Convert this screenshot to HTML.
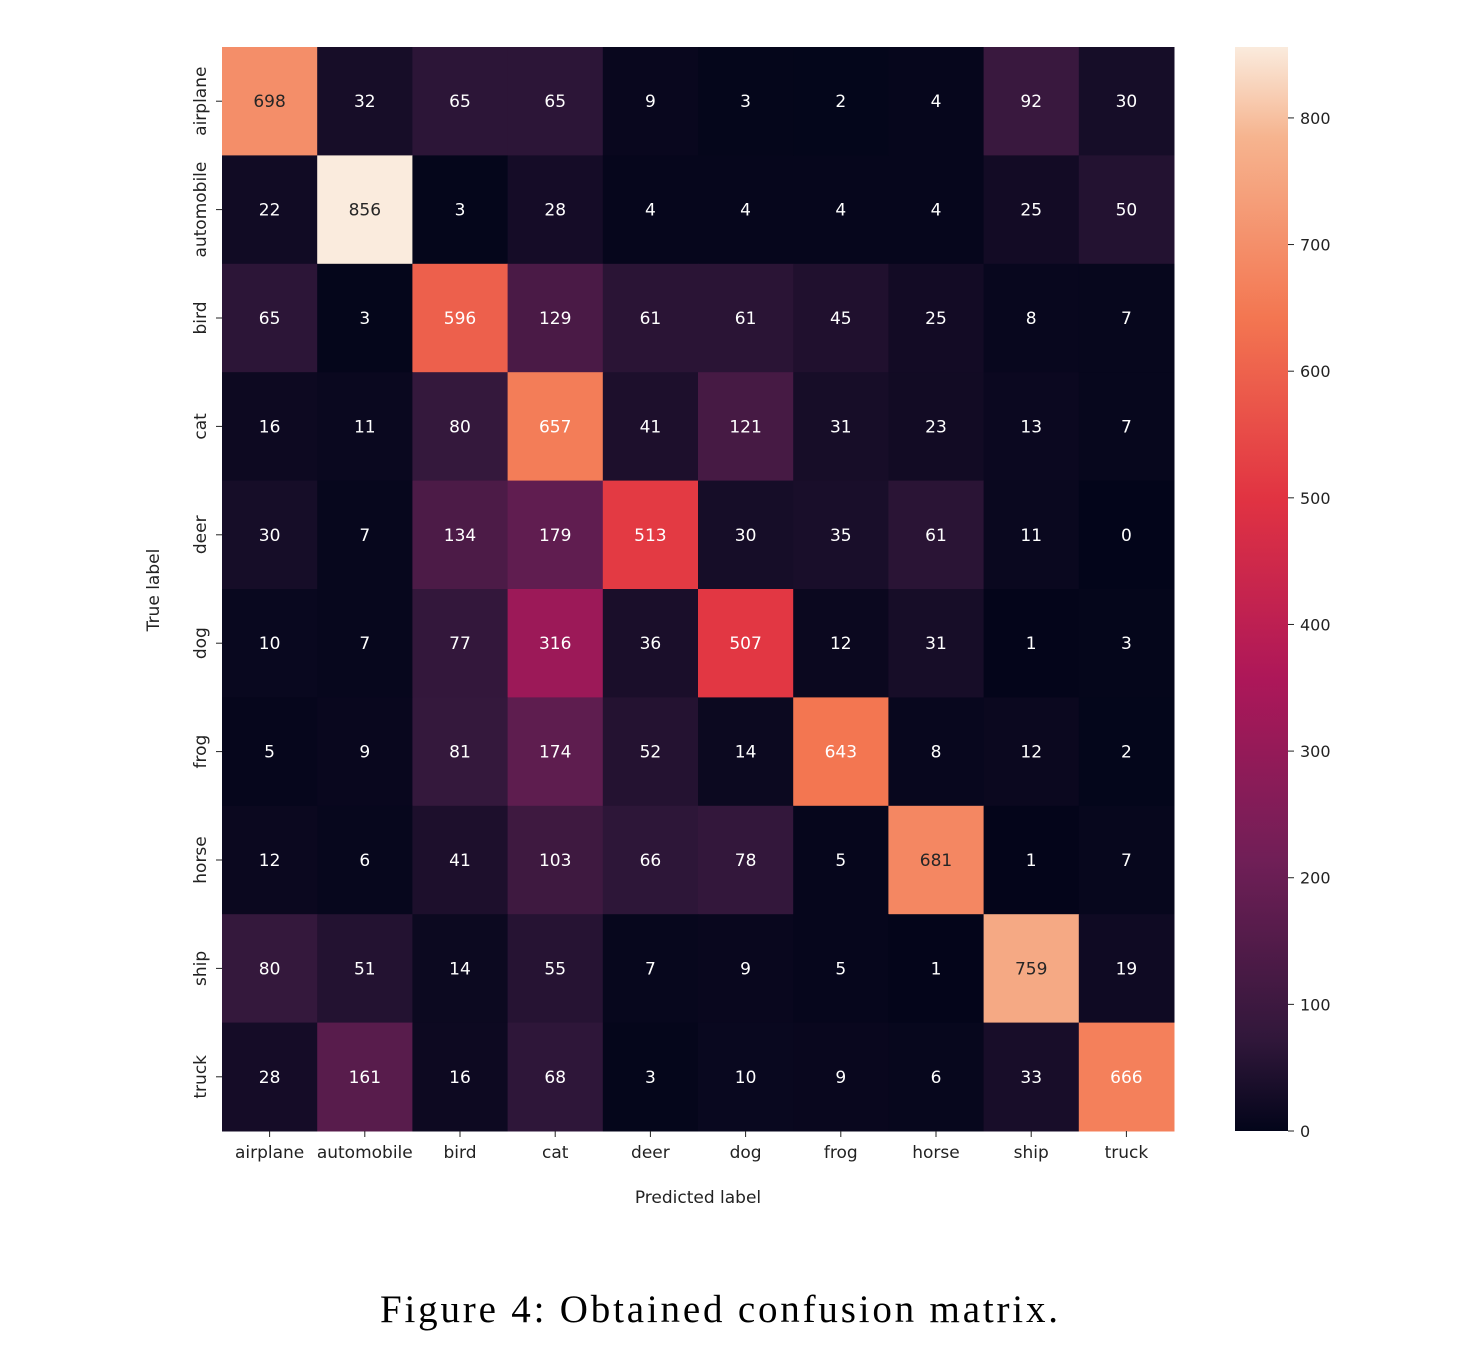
<!DOCTYPE html>
<html><head><meta charset="utf-8"><style>
html,body{margin:0;padding:0;background:#fff;}
svg{display:block;font-family:"DejaVu Sans","Liberation Sans",sans-serif;}
</style></head><body>
<svg id="chart" width="1472" height="1362" viewBox="0 0 1472 1362" xmlns="http://www.w3.org/2000/svg">
<defs>
<linearGradient id="rocket" x1="0" y1="1" x2="0" y2="0">
<stop offset="0" stop-color="#03051a"/><stop offset="0.083" stop-color="#30173a"/>
<stop offset="0.25" stop-color="#701f57"/><stop offset="0.417" stop-color="#ad1759"/>
<stop offset="0.583" stop-color="#e13342"/><stop offset="0.75" stop-color="#f37651"/>
<stop offset="0.917" stop-color="#f6b48f"/><stop offset="1" stop-color="#faebdd"/>
</linearGradient></defs>
<g id="cells"></g>
<g id="axes"></g>
<rect x="1235" y="47" width="53" height="1084" fill="url(#rocket)"/>
<g id="cbar"></g>
<text x="698" y="1203" font-size="17" text-anchor="middle" fill="#222">Predicted label</text>
<text transform="translate(159,590) rotate(-90)" font-size="17" text-anchor="middle" fill="#222">True label</text>
<text x="380" y="1322" font-family="'Liberation Serif',serif" font-size="39" textLength="678" lengthAdjust="spacing" fill="#000">Figure 4: Obtained confusion matrix.</text>
</svg>
<script>
const categories=["airplane","automobile","bird","cat","deer","dog","frog","horse","ship","truck"];
const row0=[698,32,65,65,9,3,2,4,92,30];
const row1=[22,856,3,28,4,4,4,4,25,50];
const row2=[65,3,596,129,61,61,45,25,8,7];
const row3=[16,11,80,657,41,121,31,23,13,7];
const row4=[30,7,134,179,513,30,35,61,11,0];
const row5=[10,7,77,316,36,507,12,31,1,3];
const row6=[5,9,81,174,52,14,643,8,12,2];
const row7=[12,6,41,103,66,78,5,681,1,7];
const row8=[80,51,14,55,7,9,5,1,759,19];
const row9=[28,161,16,68,3,10,9,6,33,666];
const matrix=[row0,row1,row2,row3,row4,row5,row6,row7,row8,row9];
const cbarTicks=[0,100,200,300,400,500,600,700,800];
const vmax=856;
const L=222,R=1174,T=47,B=1131,NS="http://www.w3.org/2000/svg";
const cw=(R-L)/categories.length, ch=(B-T)/categories.length;
const xPos=i=>L+i*cw, yPos=i=>T+i*ch, cbY=v=>B-(v/vmax)*(B-T);
const stops=[[0,[3,5,26]],[0.083,[48,23,58]],[0.25,[112,31,87]],[0.417,[173,23,89]],[0.583,[225,51,66]],[0.75,[243,118,81]],[0.917,[246,180,143]],[1,[250,235,221]]];
function cmap(t){t=Math.max(0,Math.min(1,t));for(let i=1;i<stops.length;i++){if(t<=stops[i][0]){const a=stops[i-1],b=stops[i],f=(t-a[0])/(b[0]-a[0]);return a[1].map((c,k)=>Math.round(c+(b[1][k]-c)*f));}}return stops[stops.length-1][1];}
function mk(tag,attrs,parent){const e=document.createElementNS(NS,tag);for(const k in attrs)e.setAttribute(k,attrs[k]);parent.appendChild(e);return e;}
const cells=document.getElementById('cells'),axes=document.getElementById('axes'),cb=document.getElementById('cbar');
matrix.forEach((row,r)=>row.forEach((v,c)=>{
 const col=cmap(v/vmax);
 const rect=mk('rect',{x:xPos(c),y:yPos(r),width:cw+0.5,height:ch+0.5,fill:`rgb(${col})`},cells);
 
 
 const t=mk('text',{x:xPos(c)+cw/2,y:yPos(r)+ch/2+6,'font-size':17,'text-anchor':'middle',fill:(v/vmax)>0.785?'#262626':'#ffffff'},cells);
 t.textContent=v;
 
 
}));
categories.forEach((n,i)=>{
 const cx=xPos(i)+cw/2;
 mk('line',{x1:cx,x2:cx,y1:B,y2:B+6,stroke:'#222'},axes);
 const t=mk('text',{x:cx,y:B+27,'font-size':17,'text-anchor':'middle',fill:'#222'},axes);t.textContent=n;
 
 
 const cy=yPos(i)+ch/2;
 mk('line',{x1:L-6,x2:L,y1:cy,y2:cy,stroke:'#222'},axes);
 const u=mk('text',{transform:`translate(206,${cy}) rotate(-90)`,'font-size':17,'text-anchor':'middle',fill:'#222'},axes);u.textContent=n;
 
 
});
cbarTicks.forEach(v=>{
 const y=cbY(v);
 mk('line',{x1:1288,x2:1294,y1:y,y2:y,stroke:'#222'},cb);
 const t=mk('text',{x:1300,y:y+6,'font-size':16,fill:'#222'},cb);t.textContent=v;
 
 
});
</script>
</body></html>
